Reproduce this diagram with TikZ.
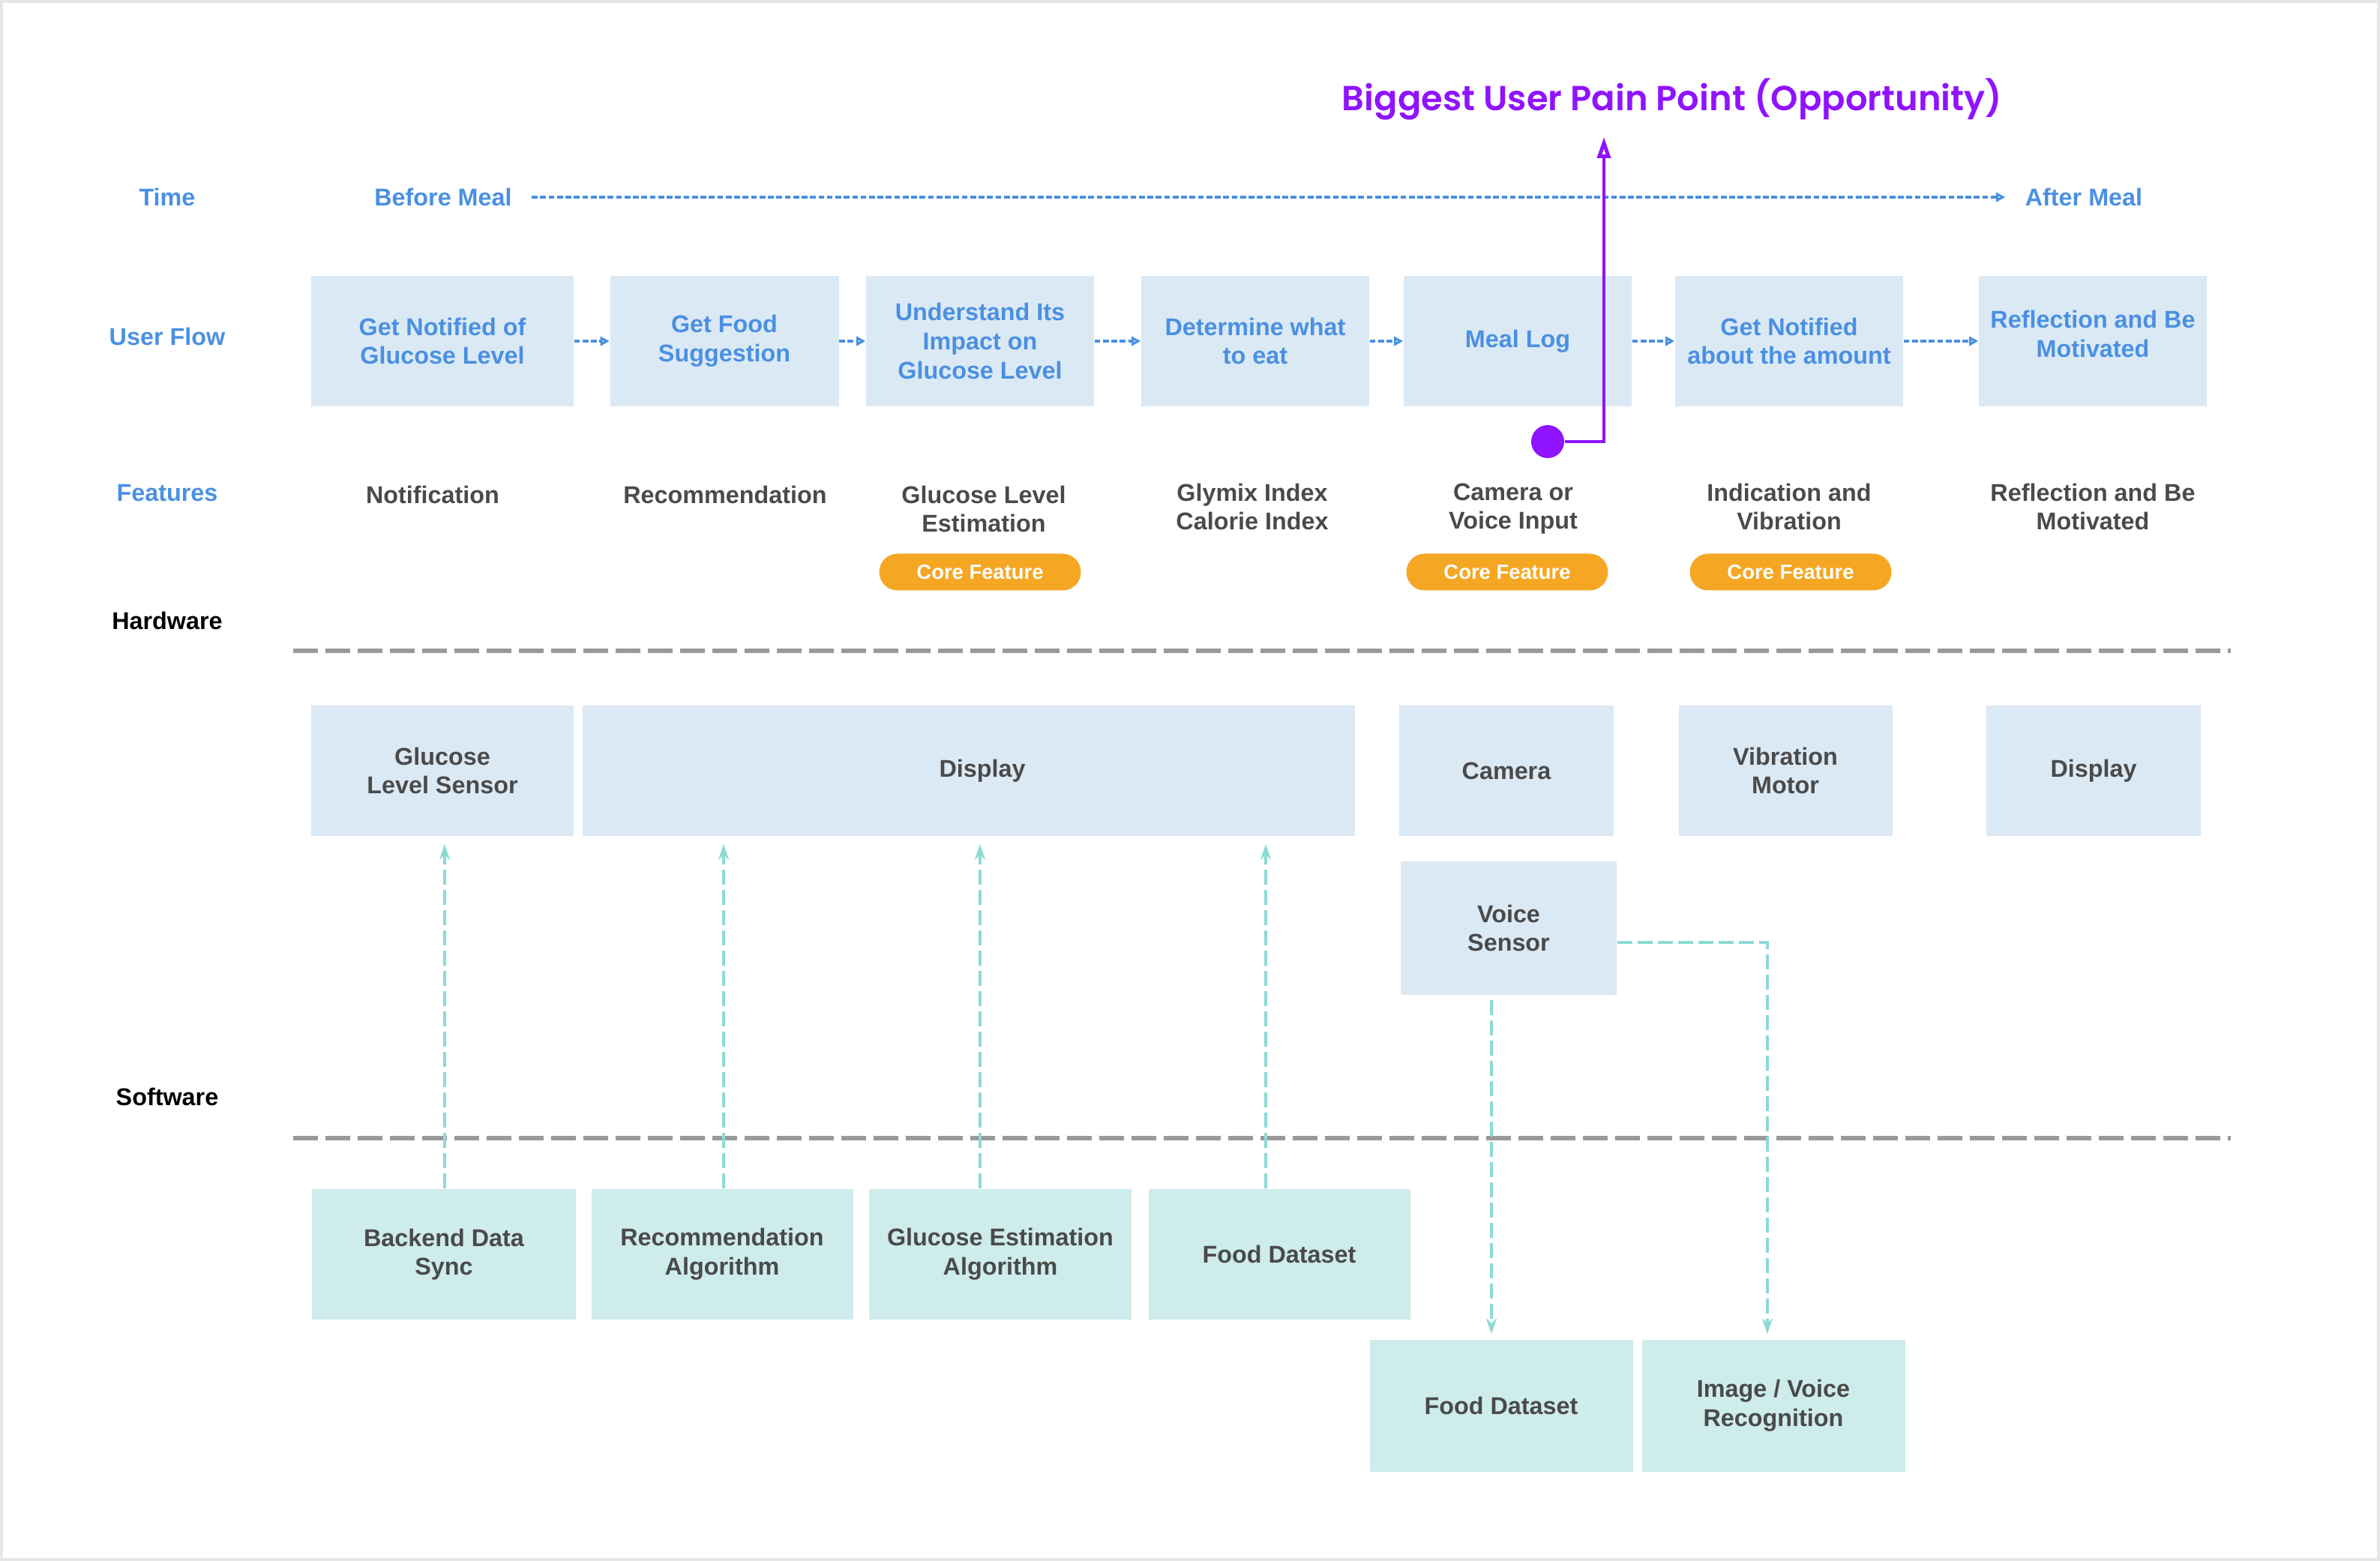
\documentclass[tikz,border=0pt]{standalone}
\usepackage{fontspec}
\setmainfont{Liberation Sans}
\newfontfamily\titelfont{Poppins SemiBold}
\usetikzlibrary{arrows.meta,positioning}

\definecolor{flussblau}{HTML}{4A90E2}
\definecolor{boxblau}{HTML}{DBE9F5}
\definecolor{boxtuerkis}{HTML}{CEECEB}
\definecolor{tuerkis}{HTML}{8CDAD5}
\definecolor{textgrau}{HTML}{4A4A4A}
\definecolor{trenngrau}{HTML}{999999}
\definecolor{kernorange}{HTML}{F5A623}
\definecolor{lila}{HTML}{9013FE}
\definecolor{rahmengrau}{HTML}{E6E6E6}

\begin{document}
\begin{tikzpicture}[
        every node/.style={font=\bfseries\fontsize{9.2}{11}\selectfont},
        ablauf/.style={fill=boxblau, text=flussblau, align=center, inner sep=0pt,
                       minimum height=1.74cm},
        geraet/.style={fill=boxblau, text=textgrau, align=center, inner sep=0pt,
                       minimum height=1.74cm},
        programm/.style={fill=boxtuerkis, text=textgrau, align=center, inner sep=0pt,
                       minimum height=1.74cm},
        merkmal/.style={text=textgrau, align=center, anchor=north, inner sep=0pt},
        kern/.style={fill=kernorange, text=white, rounded corners=0.245cm,
                     minimum width=2.69cm, minimum height=0.49cm, inner sep=0pt,
                     font=\bfseries\fontsize{7.8}{9}\selectfont},
        zeile/.style={text=flussblau},
        ebene/.style={text=black},
        titel/.style={text=lila, font=\titelfont\fontsize{13.2}{16}\selectfont},
        trenner/.style={draw=trenngrau, line width=1.7pt, dash pattern=on 0.33cm off 0.10cm},
        fluss/.style={draw=flussblau, line width=1pt, dash pattern=on 2.2pt off 1pt,
                      -{Triangle[open, length=3.5pt, width=3.5pt]}},
        daten/.style={draw=tuerkis, line width=1.3pt, dash pattern=on 0.2cm off 0.07cm,
                      -{Stealth[length=6pt, width=4pt]}},
        schmerzpfeil/.style={draw=lila, line width=1.4pt,
                      -{Triangle[open, length=8pt, width=5pt]}}
    ]
        \useasboundingbox (0,0) rectangle (31.74,-20.82);
        \draw[rahmengrau, line width=1pt] (0.02,-0.02) rectangle (31.72,-20.80);

        % row labels
        \node[zeile] (lzeit)  at (2.23, -2.63) {Time};
        \node[zeile] (lfluss) at (2.23, -4.49) {User Flow};
        \node[zeile] (lmerk)  at (2.23, -6.58) {Features};
        \node[ebene] (lhard)  at (2.23, -8.28) {Hardware};
        \node[ebene] (lsoft)  at (2.23,-14.63) {Software};

        % time line
        \node[zeile] (vor)  at (5.91, -2.63) {Before Meal};
        \node[zeile] (nach) at (27.79,-2.63) {After Meal};
        \draw[fluss, shorten <=4pt, shorten >=4pt] (vor) -- (nach);

        \node[titel] (titel) at (22.30,-1.32) {Biggest User Pain Point (Opportunity)};

        % user flow
        \node[ablauf, minimum width=3.50cm] (uf1) at ( 5.90,-4.55) {Get Notified of\\Glucose Level};
        \node[ablauf, minimum width=3.05cm] (uf2) at ( 9.66,-4.55) {Get Food\\Suggestion};
        \node[ablauf, minimum width=3.04cm] (uf3) at (13.07,-4.55) {Understand Its\\Impact on\\Glucose Level};
        \node[ablauf, minimum width=3.04cm] (uf4) at (16.74,-4.55) {Determine what\\to eat};
        \node[ablauf, minimum width=3.04cm] (uf5) at (20.24,-4.55) {Meal Log};
        \node[ablauf, minimum width=3.04cm] (uf6) at (23.86,-4.55) {Get Notified\\about the amount};
        \node[ablauf, minimum width=3.04cm] (uf7) at (27.91,-4.55) {Reflection and Be\\Motivated\\[-5.3pt]};
        \foreach \a/\b in {uf1/uf2,uf2/uf3,uf3/uf4,uf4/uf5,uf5/uf6,uf6/uf7}
            \draw[fluss] (\a) -- (\b);

        % features
        \node[merkmal] (m1) at ( 5.77,-6.47) {Notification};
        \node[merkmal] (m2) at ( 9.67,-6.47) {Recommendation};
        \node[merkmal] (m3) at (13.12,-6.47) {Glucose Level\\Estimation};
        \node[merkmal] (m4) at (16.70,-6.44) {Glymix Index\\Calorie Index};
        \node[merkmal] (m5) at (20.18,-6.44) {Camera or\\Voice Input};
        \node[merkmal] (m6) at (23.86,-6.44) {Indication and\\Vibration};
        \node[merkmal] (m7) at (27.91,-6.44) {Reflection and Be\\Motivated};
        \node[kern] (k3) at (13.07,-7.63) {Core Feature};
        \node[kern] (k5) at (20.10,-7.63) {Core Feature};
        \node[kern] (k6) at (23.88,-7.63) {Core Feature};

        % pain point
        \node[circle, fill=lila, minimum size=0.44cm, inner sep=0pt] (schmerz) at (20.64,-5.89) {};
        \draw[schmerzpfeil, shorten >=3pt] (schmerz.east) -| (21.39,0 |- titel.south);

        % layer separators
        \draw[trenner] (3.91,-8.68) -- (29.75,-8.68);
        \draw[trenner] (3.91,-15.18) -- (29.75,-15.18);

        % hardware
        \node[geraet, minimum width=3.50cm]  (sensor)  at ( 5.90,-10.28) {Glucose\\Level Sensor};
        \node[geraet, minimum width=10.30cm] (anzeige) at (12.92,-10.28) {\hspace*{0.36cm}Display};
        \node[geraet, minimum width=2.86cm]  (kamera)  at (20.09,-10.28) {Camera};
        \node[geraet, minimum width=2.85cm]  (motor)   at (23.81,-10.28) {Vibration\\Motor};
        \node[geraet, minimum width=2.86cm]  (anzeige2) at (27.92,-10.28) {Display};
        \node[geraet, minimum width=2.88cm, minimum height=1.77cm] (stimme) at (20.12,-12.38) {Voice\\Sensor};

        % software
        \node[programm, minimum width=3.52cm] (sync)   at ( 5.92,-16.73) {Backend Data\\Sync};
        \node[programm, minimum width=3.49cm] (empf)   at ( 9.63,-16.73) {Recommendation\\Algorithm};
        \node[programm, minimum width=3.50cm] (schaetz) at (13.34,-16.73) {Glucose Estimation\\Algorithm};
        \node[programm, minimum width=3.49cm] (essen)  at (17.06,-16.73) {Food Dataset};
        \node[programm, minimum width=3.51cm, minimum height=1.76cm] (essen2) at (20.02,-18.75) {Food Dataset};
        \node[programm, minimum width=3.51cm, minimum height=1.76cm] (erkenn) at (23.65,-18.75) {Image / Voice\\Recognition};

        % data links
        \draw[daten, shorten >=0.1cm] (5.93,0 |- sync.north) -- (5.93,0 |- sensor.south);
        \foreach \x/\s in {9.65/empf,13.07/schaetz,16.88/essen}
            \draw[daten, shorten >=0.1cm] (\x,0 |- \s.north) -- (\x,0 |- anzeige.south);
        \draw[daten, shorten <=2pt, shorten >=2pt] (19.89,0 |- stimme.south) -- (19.89,0 |- essen2.north);
        \draw[daten, shorten >=2pt] (stimme.east |- 0,-12.57) -| (23.57,0 |- erkenn.north);
    \end{tikzpicture}
\end{document}
